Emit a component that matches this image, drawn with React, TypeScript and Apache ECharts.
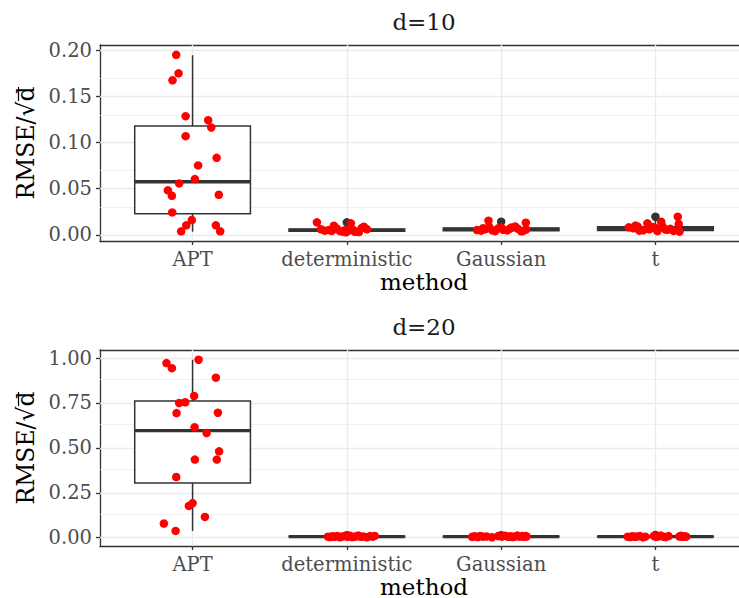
import React, { useEffect, useRef } from 'react';
import * as echarts from 'echarts';

const categories = ['APT', 'deterministic', 'Gaussian', 't'];
const panelTitles = ['d=10', 'd=20'];
const yAxisTitle = 'RMSE/√d';
const xAxisTitle = 'method';

// ---- d = 10 ----
const d10Range = [-0.0067, 0.2057];
const d10MajorTicks = [0, 0.05, 0.1, 0.15, 0.2];
const d10MinorTicks = [0.025, 0.075, 0.125, 0.175];
// boxes: [lowWhisker, Q1, median, Q3, highWhisker]
const d10Boxes = [
  [0.0034, 0.0228, 0.0575, 0.118, 0.1946],
  [0.0027, 0.0038, 0.0048, 0.0062, 0.0099],
  [0.0034, 0.0045, 0.006, 0.0075, 0.0115],
  [0.0025, 0.0048, 0.0068, 0.0088, 0.016],
];
const d10Outliers = [[], [0.0135], [0.0142], [0.0196]];
const d10AptValues = [0.195, 0.175, 0.1675, 0.1286, 0.1242, 0.1163, 0.1069, 0.0834, 0.0752, 0.0604, 0.0557, 0.0482, 0.0423, 0.0434, 0.0243, 0.016, 0.0103, 0.0103, 0.0038, 0.0038];
const d10AptJitter = [-0.106, -0.091, -0.13, -0.045, 0.101, 0.121, -0.045, 0.156, 0.036, 0.015, -0.087, -0.16, -0.134, 0.17, -0.132, -0.005, -0.041, 0.151, -0.074, 0.179];
const d10DetValues = [0.0135, 0.006, 0.0045, 0.0052, 0.0099, 0.0068, 0.004, 0.0034, 0.0027, 0.0045, 0.0124, 0.0055, 0.0038, 0.003, 0.0088, 0.006, 0.0042, 0.0075, 0.005, 0.0033];
const d10DetJitter = [-0.194, -0.168, -0.143, -0.117, -0.084, -0.065, -0.045, -0.026, -0.006, 0.013, 0.026, 0.039, 0.058, 0.078, 0.11, 0.13, -0.097, 0.097, -0.013, 0.052];
const d10GauValues = [0.0052, 0.0153, 0.0087, 0.0045, 0.006, 0.004, 0.007, 0.0055, 0.0048, 0.0078, 0.009, 0.0065, 0.0131, 0.0042, 0.0058, 0.005, 0.0072, 0.0062, 0.0038, 0.008];
const d10GauJitter = [-0.156, -0.082, -0.078, -0.13, -0.104, -0.039, -0.019, 0.013, 0.039, 0.065, 0.091, 0.11, 0.16, 0.143, 0.162, -0.058, -0.117, 0.052, 0.13, 0];
const d10TValues = [0.0081, 0.009, 0.0045, 0.0124, 0.006, 0.004, 0.0142, 0.0095, 0.0055, 0.0196, 0.0117, 0.0034, 0.007, 0.005, 0.0085, 0.0065, 0.0042, 0.01, 0.0075, 0.0058];
const d10TJitter = [-0.173, -0.115, -0.104, -0.052, -0.039, 0.013, 0.037, 0.045, 0.078, 0.145, 0.151, 0.156, -0.143, -0.078, -0.019, 0.097, 0.117, -0.13, 0, 0.065];

// ---- d = 20 ----
const d20Range = [-0.046, 1.045];
const d20MajorTicks = [0, 0.25, 0.5, 0.75, 1];
const d20MinorTicks = [0.125, 0.375, 0.625, 0.875];
const d20Boxes = [
  [0.038, 0.305, 0.596, 0.761, 0.991],
  [0.003, 0.005, 0.006, 0.008, 0.011],
  [0.003, 0.005, 0.0065, 0.008, 0.011],
  [0.003, 0.005, 0.0065, 0.008, 0.011],
];
const d20Outliers = [[], [0.014], [0.014], [0.015]];
const d20AptValues = [0.972, 0.944, 0.991, 0.891, 0.789, 0.75, 0.754, 0.694, 0.696, 0.615, 0.583, 0.481, 0.435, 0.435, 0.338, 0.192, 0.177, 0.116, 0.079, 0.038];
const d20AptJitter = [-0.169, -0.134, 0.039, 0.151, 0.01, -0.087, -0.048, -0.104, 0.164, 0.013, 0.091, 0.172, 0.015, 0.157, -0.106, 0, -0.024, 0.08, -0.186, -0.11];
const d20DetValues = [0.006, 0.004, 0.008, 0.005, 0.01, 0.003, 0.007, 0.009, 0.005, 0.011, 0.004, 0.006, 0.008, 0.012, 0.005, 0.007, 0.003, 0.009, 0.006, 0.01];
const d20DetJitter = [-0.123, -0.11, -0.095, -0.08, -0.062, -0.045, -0.03, -0.012, 0.005, 0.02, 0.035, 0.05, 0.062, 0.075, 0.09, 0.105, 0.13, 0.15, 0.168, 0.181];
const d20GauValues = [0.005, 0.008, 0.004, 0.01, 0.006, 0.007, 0.003, 0.009, 0.006, 0.011, 0.005, 0.008, 0.004, 0.007, 0.012, 0.006, 0.009, 0.005, 0.01, 0.007];
const d20GauJitter = [-0.188, -0.17, -0.15, -0.135, -0.118, -0.095, -0.06, -0.02, 0.005, 0.025, 0.045, 0.06, 0.075, 0.09, 0.105, 0.12, 0.135, 0.148, 0.158, 0.165];
const d20TValues = [0.006, 0.004, 0.008, 0.005, 0.007, 0.009, 0.003, 0.006, 0.01, 0.005, 0.008, 0.012, 0.006, 0.004, 0.009, 0.007, 0.011, 0.005, 0.008, 0.006];
const d20TJitter = [-0.18, -0.165, -0.15, -0.135, -0.12, -0.1, -0.08, -0.065, -0.01, 0.005, 0.02, 0.035, 0.05, 0.065, 0.085, 0.155, 0.165, 0.175, 0.19, 0.2];

const FONT = '"DejaVu Serif", serif';
const BOX_WIDTH = 0.75;
const GRID_LEFT = 100;
const GRID_WIDTH = 648;
const GRID_HEIGHT = 196;
const GRID_TOPS = [45, 350];
const BORDER = { color: '#333333', width: 1.3 };

const panels = [
  {
    title: panelTitles[0], range: d10Range, major: d10MajorTicks, minor: d10MinorTicks, boxes: d10Boxes, outliers: d10Outliers,
    values: [d10AptValues, d10DetValues, d10GauValues, d10TValues],
    jitter: [d10AptJitter, d10DetJitter, d10GauJitter, d10TJitter],
  },
  {
    title: panelTitles[1], range: d20Range, major: d20MajorTicks, minor: d20MinorTicks, boxes: d20Boxes, outliers: d20Outliers,
    values: [d20AptValues, d20DetValues, d20GauValues, d20TValues],
    jitter: [d20AptJitter, d20DetJitter, d20GauJitter, d20TJitter],
  },
];

function buildOption() {
  const grid: any[] = [];
  const xAxis: any[] = [];
  const topAxes: any[] = [];
  const yAxis: any[] = [];
  const series: any[] = [];
  const graphic: any[] = [];
  const catPositions = categories.map((_, i) => i + 1);

  panels.forEach((p, k) => {
    grid.push({
      left: GRID_LEFT, top: GRID_TOPS[k], width: GRID_WIDTH, height: GRID_HEIGHT,
      show: false, outerBoundsMode: 'none',
    });
    xAxis.push({
      type: 'value', gridIndex: k, min: 0.4, max: 4.6, position: 'bottom',
      axisLine: { show: true, onZero: false, lineStyle: BORDER },
      splitLine: { show: false },
      axisTick: { show: true, customValues: catPositions, length: 4, lineStyle: BORDER },
      axisLabel: {
        customValues: catPositions, margin: 8, color: '#4D4D4D', fontFamily: FONT, fontSize: 19.5,
        formatter: (v: number) => categories[Math.round(v) - 1] ?? '',
      },
      name: xAxisTitle, nameLocation: 'middle', nameGap: 29,
      nameTextStyle: { color: '#000000', fontFamily: FONT, fontSize: 23 },
    });
    // top edge of the panel border
    topAxes.push({
      type: 'value', gridIndex: k, min: 0.4, max: 4.6, position: 'top',
      axisLine: { show: true, onZero: false, lineStyle: BORDER },
      axisTick: { show: false }, axisLabel: { show: false }, splitLine: { show: false },
    });
    yAxis.push({
      type: 'value', gridIndex: k, min: p.range[0], max: p.range[1],
      axisLine: { show: true, onZero: false, lineStyle: BORDER },
      splitLine: { show: false },
      axisTick: { show: true, customValues: p.major, length: 4, lineStyle: BORDER },
      axisLabel: {
        customValues: p.major, margin: 8, color: '#4D4D4D', fontFamily: FONT, fontSize: 19.5,
        formatter: (v: number) => v.toFixed(2),
      },
      name: yAxisTitle, nameLocation: 'middle', nameGap: 62, nameRotate: 90,
      nameTextStyle: { color: '#000000', fontFamily: FONT, fontSize: 23.5 },
    });
    // grid lines
    series.push({
      type: 'scatter', xAxisIndex: k, yAxisIndex: k, data: [], z: 1, silent: true,
      markLine: {
        z: 1, silent: true, symbol: ['none', 'none'], label: { show: false }, animation: false,
        data: [
          ...p.minor.map((v) => ({ yAxis: v, lineStyle: { color: '#EBEBEB', width: 0.7, type: 'solid' } })),
          ...p.major.map((v) => ({ yAxis: v, lineStyle: { color: '#EBEBEB', width: 1.4, type: 'solid' } })),
          ...catPositions.map((v) => ({ xAxis: v, lineStyle: { color: '#EBEBEB', width: 1.4, type: 'solid' } })),
        ],
      },
    });
    // boxplots
    series.push({
      type: 'custom', xAxisIndex: k, yAxisIndex: k, z: 2, silent: true,
      data: p.boxes.map((b, i) => [catPositions[i], ...b]),
      encode: { x: 0, y: [1, 2, 3, 4, 5] },
      renderItem: (params: any, api: any) => {
        const x = api.value(0);
        const lo = api.coord([x, api.value(1)]);
        const q1 = api.coord([x, api.value(2)]);
        const med = api.coord([x, api.value(3)]);
        const q3 = api.coord([x, api.value(4)]);
        const hi = api.coord([x, api.value(5)]);
        const w = api.size([BOX_WIDTH, 0])[0];
        const stroke = '#333333';
        return {
          type: 'group',
          children: [
            { type: 'line', shape: { x1: lo[0], y1: lo[1], x2: q1[0], y2: q1[1] }, style: { stroke, lineWidth: 1.5 } },
            { type: 'line', shape: { x1: q3[0], y1: q3[1], x2: hi[0], y2: hi[1] }, style: { stroke, lineWidth: 1.5 } },
            { type: 'rect', shape: { x: med[0] - w / 2, y: q3[1], width: w, height: q1[1] - q3[1] }, style: { fill: '#ffffff', stroke, lineWidth: 1.5 } },
            { type: 'line', shape: { x1: med[0] - w / 2, y1: med[1], x2: med[0] + w / 2, y2: med[1] }, style: { stroke, lineWidth: 3.3 } },
          ],
        };
      },
    });
    // outliers
    const outData: number[][] = [];
    p.outliers.forEach((arr, i) => arr.forEach((v) => outData.push([catPositions[i], v])));
    series.push({
      type: 'scatter', xAxisIndex: k, yAxisIndex: k, z: 3, silent: true,
      symbolSize: 8.5, itemStyle: { color: '#333333', opacity: 1 }, data: outData,
    });
    // jittered points
    const ptData: number[][] = [];
    p.values.forEach((arr, i) => arr.forEach((v, j) => ptData.push([catPositions[i] + p.jitter[i][j], v])));
    series.push({
      type: 'scatter', xAxisIndex: k, yAxisIndex: k, z: 4, silent: true,
      symbolSize: 8.5, itemStyle: { color: '#FF0000', opacity: 1 }, data: ptData,
    });
    graphic.push({
      type: 'text', x: GRID_LEFT + 324, y: GRID_TOPS[k] - 23,
      style: { text: p.title, font: `23px ${FONT}`, fill: '#1A1A1A', textAlign: 'center', textVerticalAlign: 'middle' },
    });
    // overline of the square root in the y axis title
    const midY = GRID_TOPS[k] + GRID_HEIGHT / 2;
    graphic.push({
      type: 'line', silent: true,
      shape: { x1: 18.5, y1: midY - 56, x2: 18.5, y2: midY - 42 },
      style: { stroke: '#000000', lineWidth: 1.2 },
    });
  });

  return { animation: false, backgroundColor: '#ffffff', grid, xAxis: [...xAxis, ...topAxes], yAxis, series, graphic };
}

export default function App() {
  const ref = useRef<HTMLDivElement>(null);
  useEffect(() => {
    document.body.style.margin = '0';
    if (!ref.current) return;
    const chart = echarts.init(ref.current, undefined, { renderer: 'svg' });
    chart.setOption(buildOption() as any);
    return () => chart.dispose();
  }, []);
  return (
    <div style={{ width: 739, height: 598, overflow: 'hidden', background: '#fff' }}>
      <div ref={ref} style={{ width: 900, height: 598 }} />
    </div>
  );
}
